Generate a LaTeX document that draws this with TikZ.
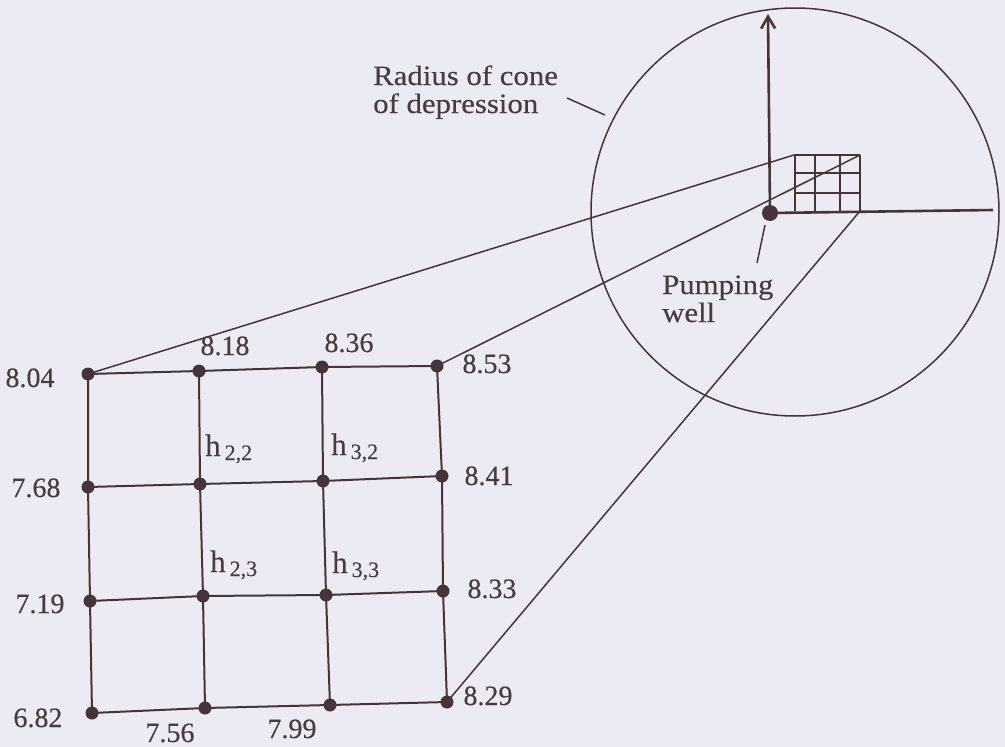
\documentclass[tikz,border=0pt]{standalone}
\usepackage{fontspec}
\usetikzlibrary{arrows.meta}
\setmainfont{Liberation Serif}[FakeBold=0.3]
\newfontfamily\labelfont{Liberation Serif}[FakeStretch=1.1,FakeBold=0.3]
\definecolor{bgc}{RGB}{236,235,244}
\definecolor{ink}{RGB}{70,52,58}
\definecolor{txt}{RGB}{72,60,66}
\tikzset{
  gdot/.style={circle,fill=ink,inner sep=0pt,minimum size=13pt},
  wline/.style={draw=ink,line width=2pt},
  thinline/.style={draw=ink,line width=1.5pt},
  numlab/.style={anchor=base,inner sep=0pt,text=txt,font=\fontsize{28}{28}\selectfont},
  hlab/.style={anchor=base west,inner sep=0pt,text=txt},
  txtlab/.style={anchor=base west,inner sep=0pt,text=txt,align=left,font=\labelfont\fontsize{28}{28}\selectfont},
}
\newcommand{\hsub}[1]{{\fontsize{31}{31}\selectfont h}\hspace{4pt}\raisebox{-4pt}{\fontsize{22}{22}\selectfont #1}}
\begin{document}
\begin{tikzpicture}[x=1pt,y=-1pt]
\fill[bgc] (0,0) rectangle (1005,747);
\useasboundingbox (0,0) rectangle (1005,747);

% big grid nodes
\node[gdot] (a1) at (88,374) {};
\node[gdot] (a2) at (199,371) {};
\node[gdot] (a3) at (322,367) {};
\node[gdot] (a4) at (437,366) {};
\node[gdot] (b1) at (88,487) {};
\node[gdot] (b2) at (200,484) {};
\node[gdot] (b3) at (323,481) {};
\node[gdot] (b4) at (442,476) {};
\node[gdot] (c1) at (90,601) {};
\node[gdot] (c2) at (203,596) {};
\node[gdot] (c3) at (326,595) {};
\node[gdot] (c4) at (443,591) {};
\node[gdot] (d1) at (92,713) {};
\node[gdot] (d2) at (205,708) {};
\node[gdot] (d3) at (330,705) {};
\node[gdot] (d4) at (447,702) {};

\foreach \r in {a,b,c,d}{
  \draw[wline] (\r1.center) -- (\r2.center) -- (\r3.center) -- (\r4.center);
}
\foreach \k in {1,2,3,4}{
  \draw[wline] (a\k.center) -- (b\k.center) -- (c\k.center) -- (d\k.center);
}

% circle and inset
\coordinate (cc) at (795,212);
\draw[thinline] (cc) circle[radius=204];

\node[gdot,minimum size=16pt] (well) at (770,213) {};
\coordinate (ytip) at (768,14);
\coordinate (xend) at (993,210);
\draw[draw=ink,line width=2.6pt,-{Straight Barb[length=12pt,width=14pt,line width=2.6pt]}] (well.center) -- (ytip);
\draw[draw=ink,line width=2.6pt] (well.center) -- (xend);

% small grid
\coordinate (s00) at (794,155);
\coordinate (s30) at (860,155);
\coordinate (s03) at (795,211);
\coordinate (s33) at (860,211);
\foreach \x in {795,815,840,860}{
  \draw[thinline] (\x,155) -- (\x,211);
}
\foreach \y in {155,173,193}{
  \draw[thinline] (794,\y) -- (860,\y);
}

% projection lines
\draw[thinline] (a1.center) -- (s00);
\draw[thinline] (a4.center) -- (s30);
\draw[thinline] (d4.center) -- (s33);

% labels
\node[numlab] (l804) at (30,387) {8.04};
\node[numlab] (l818) at (225,355) {8.18};
\node[numlab] (l836) at (349,352) {8.36};
\node[numlab] (l853) at (487,373) {8.53};
\node[numlab] (l768) at (36,497) {7.68};
\node[numlab] (l841) at (489,485) {8.41};
\node[numlab] (l719) at (40,613) {7.19};
\node[numlab] (l833) at (492,598) {8.33};
\node[numlab] (l682) at (38,727) {6.82};
\node[numlab] (l829) at (488,705) {8.29};
\node[numlab] (l756) at (170,742) {7.56};
\node[numlab] (l799) at (292,738) {7.99};

\node[hlab] (h22) at (205,456) {\hsub{2,2}};
\node[hlab] (h32) at (331,455) {\hsub{3,2}};
\node[hlab] (h23) at (210,572) {\hsub{2,3}};
\node[hlab] (h33) at (332,573) {\hsub{3,3}};

\node[txtlab] (rad) at (373,113) {Radius of cone\\of depression};
\coordinate (radA) at (567,98);
\coordinate (radB) at (605,115);
\draw[thinline] (radA) -- (radB);

\node[txtlab] (pump) at (662,322) {Pumping\\well};
\coordinate (pA) at (757,263);
\coordinate (pB) at (765,225);
\draw[thinline] (pA) -- (pB);
\end{tikzpicture}
\end{document}
